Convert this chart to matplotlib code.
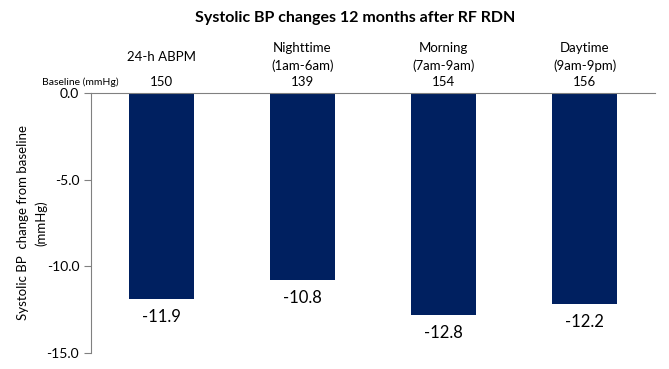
import matplotlib
matplotlib.use("Agg")
import matplotlib.pyplot as plt

categories = ["24-h ABPM", "Nighttime\n(1am-6am)", "Morning\n(7am-9am)", "Daytime\n(9am-9pm)"]
baseline = [150, 139, 154, 156]
changes = [-11.9, -10.8, -12.8, -12.2]
yticks = [0.0, -5.0, -10.0, -15.0]

plt.rcParams['font.family'] = ['Lato', 'DejaVu Sans']

fig = plt.figure(figsize=(6.69, 3.69), dpi=100)
ax = fig.add_axes([91/669, 1-353/369, (655-91)/669, (353-93)/369])

x = list(range(len(categories)))
ax.bar(x, changes, width=0.465, color="#002060", zorder=2)
ax.set_xlim(-0.5, 3.5)
ax.set_ylim(-15, 0)
ax.set_yticks(yticks)
ax.set_yticklabels([f"{v:.1f}" for v in yticks], fontsize=10)
ax.set_xticks([])
for s in ["bottom", "right"]:
    ax.spines[s].set_visible(False)
ax.spines["top"].set_color("#808080")
ax.spines["left"].set_color("#808080")
ax.tick_params(axis="y", color="#808080", length=5, width=0.8)

for xi, v in zip(x, changes):
    ax.annotate(f"{v:.1f}", (xi, v), xytext=(0, -7), textcoords="offset points",
                ha="center", va="top", fontsize=12)

for xi, cat, b in zip(x, categories, baseline):
    ax.annotate(str(b), (xi, 0), xytext=(0, 8), textcoords="offset points",
                ha="center", va="center", fontsize=9.5)
    ax.annotate(cat, (xi, 0), xytext=(0, 26), textcoords="offset points",
                ha="center", va="center", fontsize=9.5, linespacing=1.45)

fig.text(80/669, 1-82/369, "Baseline (mmHg)", ha="center", va="center", fontsize=7.5)
ax.set_ylabel("Systolic BP  change from baseline\n(mmHg)", fontsize=9.5, linespacing=1.5)
ax.yaxis.set_label_coords(-(91-47)/564, 0.5)
fig.text(355/669, 1-18/369, "Systolic BP changes 12 months after RF RDN",
         ha="center", va="center", fontsize=11.5, fontweight="bold")

fig.savefig("out.png", dpi=100)
